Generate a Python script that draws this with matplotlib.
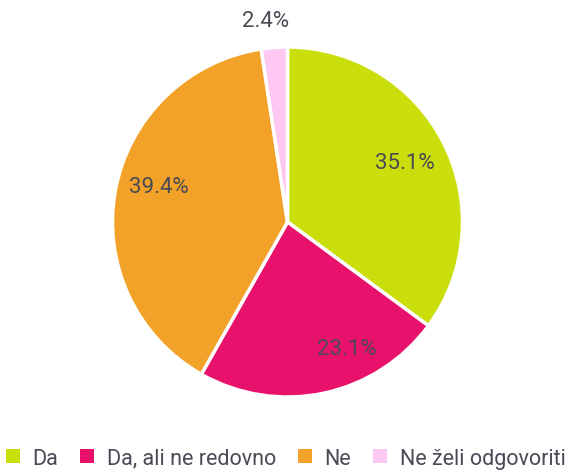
import numpy as np
import matplotlib
matplotlib.use("Agg")
import matplotlib.pyplot as plt
from matplotlib.patches import Patch

# data
labels = ["Da", "Da, ali ne redovno", "Ne", "Ne želi odgovoriti"]
values = [35.1, 23.1, 39.4, 2.4]
colors = ["#cade0b", "#e8126c", "#f2a229", "#ffc8f2"]

plt.rcParams["font.family"] = ["Roboto", "DejaVu Sans"]
text_color = "#4a4a55"

fig = plt.figure(figsize=(5.71, 4.77), dpi=100)
r_px = 175
cx, cy = 287.5, 477 - 223
ax = fig.add_axes([(cx - r_px) / 571, (cy - r_px) / 477, 2 * r_px / 571, 2 * r_px / 477])

wedges, texts, autotexts = ax.pie(
    values, colors=colors, startangle=90, counterclock=False,
    autopct="%.1f%%", pctdistance=0.76, radius=1,
    wedgeprops=dict(edgecolor="white", linewidth=2.5),
    textprops=dict(color=text_color, fontsize=16),
)


def move_label(t, dist, dangle=0.0):
    x, y = t.get_position()
    a = np.arctan2(y, x) + np.radians(dangle)
    t.set_position((dist * np.cos(a), dist * np.sin(a)))


move_label(autotexts[0], 0.75)
move_label(autotexts[1], 0.80, 13)
move_label(autotexts[2], 0.76, -5)
move_label(autotexts[3], 1.16, 2)

ax.set_xlim(-1, 1)
ax.set_ylim(-1, 1)
ax.set_aspect("equal")
ax.axis("off")

handles = [Patch(facecolor=c, edgecolor="none") for c in colors]
fig.legend(handles, labels, loc="lower center", bbox_to_anchor=(0.5, -0.025),
           ncol=4, frameon=False, fontsize=15.5, handlelength=0.65, handleheight=0.65,
           handletextpad=0.6, columnspacing=1.0, labelcolor=text_color)

fig.savefig("out.png", dpi=100)
